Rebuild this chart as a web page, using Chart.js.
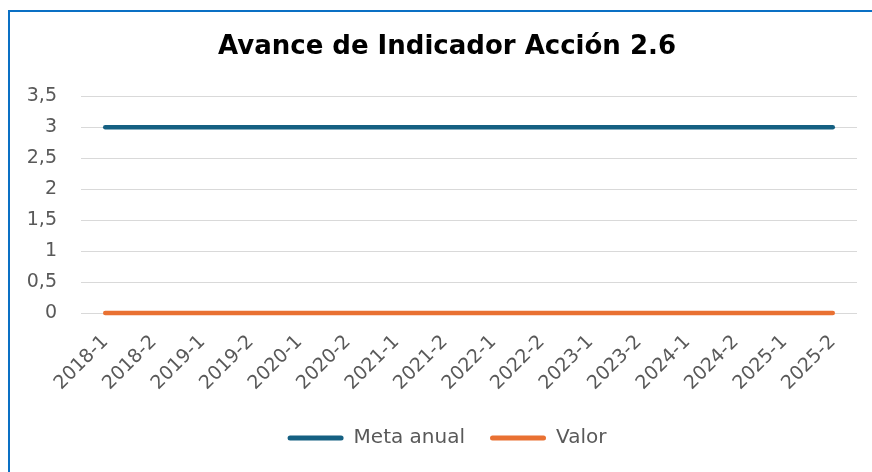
<!DOCTYPE html>
<html>
<head>
<meta charset="utf-8">
<script src="https://cdn.jsdelivr.net/npm/chart.js@4.4.1/dist/chart.umd.min.js"></script>
<style>
  html, body { margin: 0; padding: 0; background: #fff; overflow: hidden; }
  #wrap { position: relative; width: 872px; height: 472px; }
  #frame { position: absolute; left: 8px; top: 10px; width: 900px; height: 500px;
           border-top: 2px solid #0A70C4; border-left: 2px solid #0A70C4; box-sizing: border-box; pointer-events: none; }
  canvas { position: absolute; left: 0; top: 0; }
</style>
</head>
<body>
<div id="wrap">
  <canvas id="c" width="872" height="472"></canvas>
  <div id="frame"></div>
</div>
<script>
const chartTitle = "Avance de Indicador Acción 2.6";
const categories = ["2018-1","2018-2","2019-1","2019-2","2020-1","2020-2","2021-1","2021-2",
                    "2022-1","2022-2","2023-1","2023-2","2024-1","2024-2","2025-1","2025-2"];
const metaAnual = [3,3,3,3,3,3,3,3,3,3,3,3,3,3,3,3];
const valor     = [0,0,0,0,0,0,0,0,0,0,0,0,0,0,0,0];
const seriesNames = ["Meta anual", "Valor"];
const yTicks = [0, 0.5, 1, 1.5, 2, 2.5, 3, 3.5];

const BLUE = "#156082";
const ORANGE = "#E97132";
const FONT = "'DejaVu Sans', sans-serif";

new Chart(document.getElementById("c"), {
  type: "line",
  data: {
    labels: categories,
    datasets: [
      { label: seriesNames[0], data: metaAnual, borderColor: BLUE, backgroundColor: BLUE,
        borderWidth: 4.5, pointRadius: 0, borderCapStyle: "round", tension: 0, clip: false },
      { label: seriesNames[1], data: valor, borderColor: ORANGE, backgroundColor: ORANGE,
        borderWidth: 4.5, pointRadius: 0, borderCapStyle: "round", tension: 0, clip: false }
    ]
  },
  options: {
    responsive: false,
    animation: false,
    devicePixelRatio: 1,
    layout: { padding: { left: 37, right: 15, top: 0, bottom: 14 } },
    plugins: {
      title: {
        display: true, text: chartTitle, color: "#000",
        font: { family: FONT, size: 26, weight: "bold" },
        padding: { top: 32, bottom: 33 }
      },
      legend: {
        position: "bottom",
        labels: {
          color: "#595959",
          font: { family: FONT, size: 20 },
          boxWidth: 56, boxHeight: 5, useBorderRadius: true, borderRadius: 2.5,
          padding: 25,
          generateLabels: (chart) => {
            const items = Chart.defaults.plugins.legend.labels.generateLabels(chart);
            items.forEach(it => { it.lineWidth = 0; it.strokeStyle = "rgba(0,0,0,0)"; });
            return items;
          }
        }
      },
      tooltip: { enabled: false }
    },
    scales: {
      x: {
        offset: true,
        grid: { display: false, drawTicks: false },
        border: { display: false },
        ticks: { color: "#595959", font: { family: FONT, size: 19 }, minRotation: 45, maxRotation: 45, padding: 18, autoSkip: false },
        afterFit: (s) => { s.height = 90; }
      },
      y: {
        min: 0, max: 3.5,
        afterBuildTicks: (s) => { s.ticks = yTicks.map(v => ({ value: v })); },
        grid: { color: "#D9D9D9", lineWidth: 1, drawTicks: false },
        border: { display: false },
        ticks: { color: "#595959", font: { family: FONT, size: 19 }, padding: 24,
                 callback: (v) => String(v).replace(".", ",") },
        afterFit: (s) => {
          s.width = 44;
          s._computeLabelArea = () => undefined;
        }
      }
    }
  }
});
</script>
</body>
</html>
